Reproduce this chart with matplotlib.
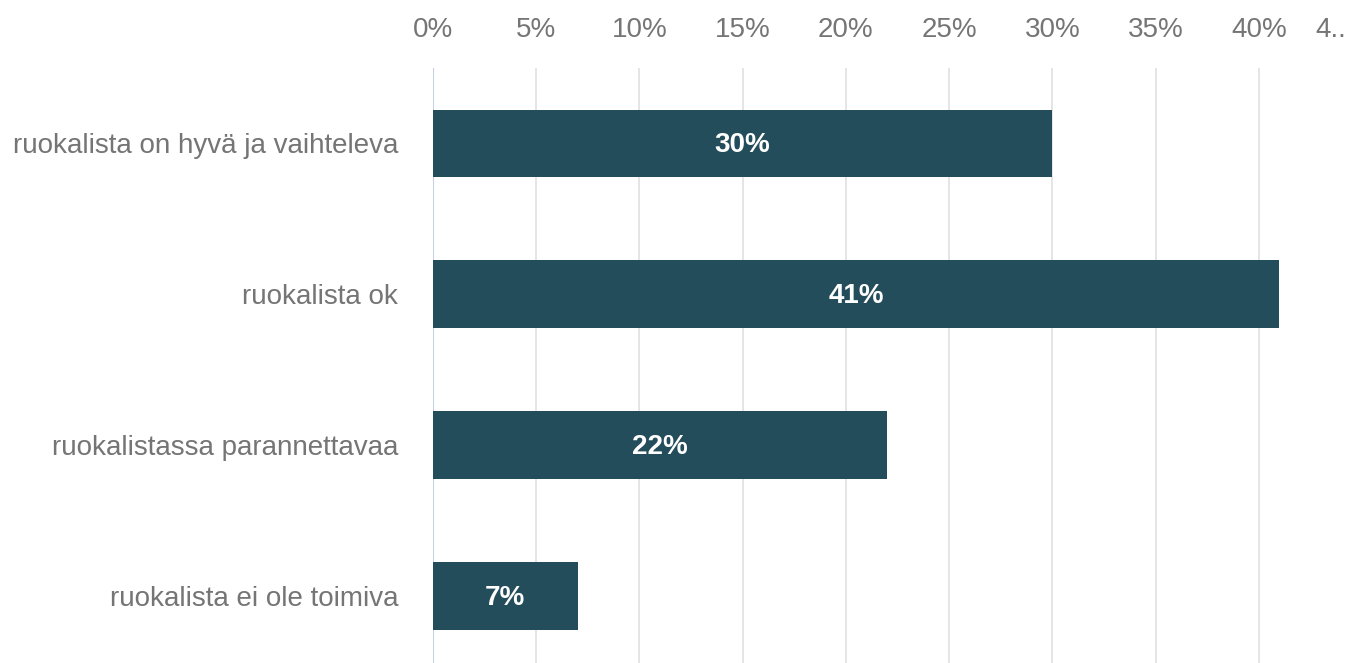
import matplotlib.pyplot as plt
import numpy as np

# data
categories = [
    "ruokalista on hyvä ja vaihteleva",
    "ruokalista ok",
    "ruokalistassa parannettavaa",
    "ruokalista ei ole toimiva",
]
shares = [30, 41, 22, 7]
tick_values = [0, 5, 10, 15, 20, 25, 30, 35, 40]
tick_labels = ["0%", "5%", "10%", "15%", "20%", "25%", "30%", "35%", "40%"]
cut_label = "4.."

BAR_COLOR = "#244d5b"
TEXT_GRAY = "#757575"
GRID_GRAY = "#e3e3e3"
ZERO_LINE = "#c8d0e3"
FS = 20
TICK_PAD = 18

plt.rcParams["font.family"] = ["Liberation Sans", "DejaVu Sans"]

fig = plt.figure(figsize=(13.52, 6.63), dpi=100, facecolor="white")
# axes run past the right and bottom edges like the cropped original
ax_h = 0.9107
ax = fig.add_axes([433 / 1352, -0.0133, 929 / 1352, ax_h])

y = np.arange(len(categories))
bars = ax.barh(y, shares, height=0.45, color=BAR_COLOR, zorder=3)

for bar, val in zip(bars, shares):
    ax.text(bar.get_width() / 2, bar.get_y() + bar.get_height() / 2 + 0.01,
            f"{val}%", ha="center", va="center", color="white",
            fontsize=FS, fontweight="bold", zorder=4)

ax.set_xlim(0, 45)
ax.set_ylim(len(categories) - 0.5, -0.5)

ax.set_xticks(tick_values)
ax.set_xticklabels(tick_labels)
ax.xaxis.tick_top()
ax.tick_params(axis="x", length=0, pad=TICK_PAD, labelsize=FS, labelcolor=TEXT_GRAY)
# truncated last tick label, on the same baseline as the others
ax.text(42.75, 1.0 + TICK_PAD / 72 * 100 / (ax_h * 663), cut_label,
        transform=ax.get_xaxis_transform(), ha="left", va="bottom",
        fontsize=FS, color=TEXT_GRAY)

ax.set_yticks(y)
ax.set_yticklabels(categories)
ax.tick_params(axis="y", length=0, pad=25, labelsize=FS, labelcolor=TEXT_GRAY)

ax.grid(axis="x", color=GRID_GRAY, lw=1.3, zorder=0)
ax.axvline(0, color=ZERO_LINE, lw=1.5, zorder=2)
for spine in ax.spines.values():
    spine.set_visible(False)

fig.savefig("out.png", dpi=100, facecolor="white")
